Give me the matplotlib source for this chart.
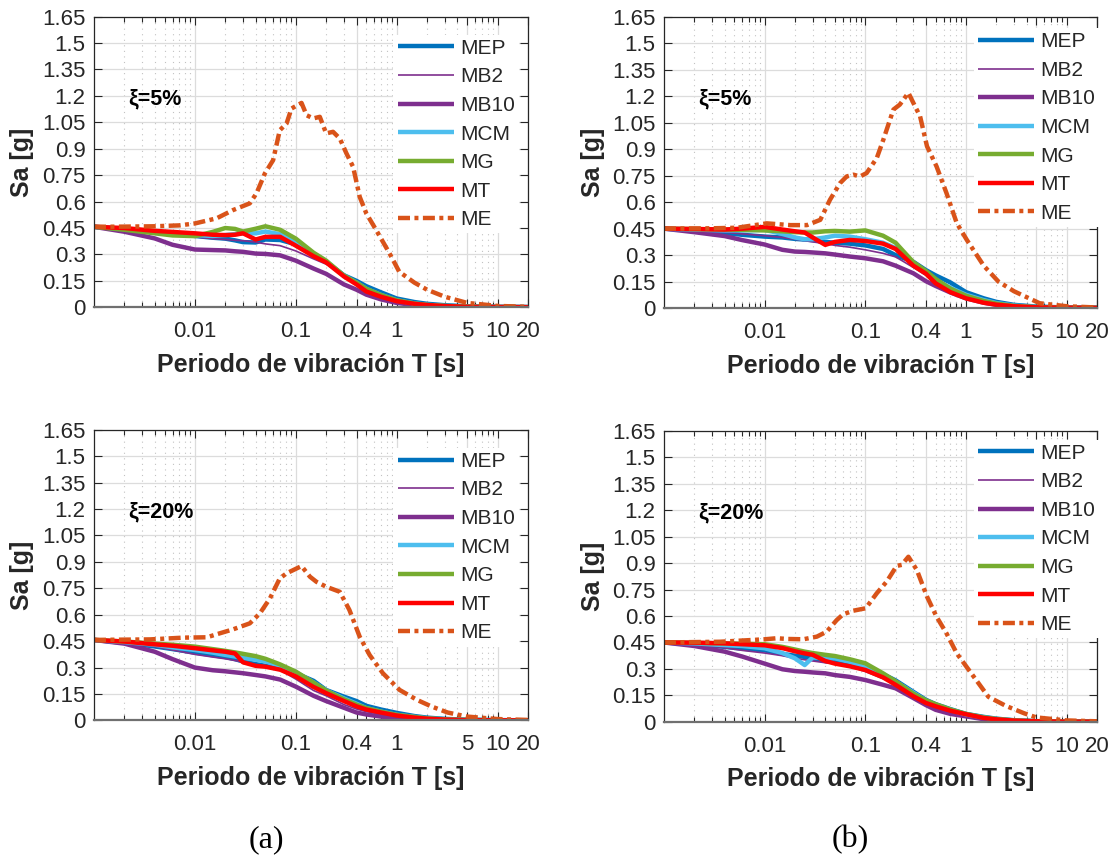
import matplotlib
matplotlib.use("Agg")
import matplotlib.pyplot as plt
from matplotlib.ticker import FixedLocator, FixedFormatter, LogLocator, NullFormatter

plt.rcParams["font.family"] = ["Liberation Sans", "DejaVu Sans"]

# periods shared by the six model curves [s]
PERIODS = [0.001, 0.002, 0.004, 0.006, 0.01, 0.015, 0.02, 0.025, 0.03, 0.04, 0.05, 0.07,
           0.1, 0.15, 0.2, 0.3, 0.4, 0.5, 0.7, 1.0, 1.5, 2.0, 3.0, 5.0, 10.0, 20.0]

# (a) xi = 5%
A5_MEP = [0.457, 0.445, 0.430, 0.420, 0.405, 0.395, 0.390, 0.380, 0.370, 0.368, 0.385, 0.382,
          0.358, 0.298, 0.258, 0.182, 0.150, 0.120, 0.085, 0.050, 0.030, 0.020, 0.012, 0.006, 0.003, 0.002]
A5_MB2 = [0.457, 0.440, 0.420, 0.410, 0.400, 0.390, 0.385, 0.380, 0.378, 0.370, 0.360, 0.350,
          0.320, 0.275, 0.245, 0.190, 0.140, 0.105, 0.070, 0.040, 0.020, 0.012, 0.007, 0.004, 0.002, 0.001]
A5_MB10 = [0.457, 0.429, 0.391, 0.355, 0.328, 0.325, 0.323, 0.318, 0.315, 0.305, 0.303, 0.295,
           0.265, 0.220, 0.190, 0.130, 0.100, 0.072, 0.045, 0.025, 0.013, 0.008, 0.004, 0.002, 0.001, 0.001]
A5_MCM = [0.457, 0.445, 0.430, 0.420, 0.410, 0.405, 0.410, 0.415, 0.420, 0.420, 0.430, 0.415,
          0.370, 0.305, 0.260, 0.180, 0.140, 0.105, 0.070, 0.040, 0.022, 0.014, 0.008, 0.004, 0.002, 0.001]
A5_MG = [0.457, 0.440, 0.420, 0.408, 0.404, 0.428, 0.450, 0.445, 0.430, 0.446, 0.460, 0.440,
         0.390, 0.310, 0.265, 0.180, 0.140, 0.105, 0.070, 0.040, 0.022, 0.014, 0.008, 0.004, 0.002, 0.001]
A5_MT = [0.457, 0.450, 0.434, 0.428, 0.420, 0.412, 0.410, 0.412, 0.420, 0.385, 0.400, 0.400,
         0.350, 0.290, 0.255, 0.175, 0.130, 0.090, 0.060, 0.035, 0.020, 0.013, 0.007, 0.003, 0.002, 0.001]
A5_ME_T = [0.001, 0.002, 0.004, 0.007, 0.01, 0.0164, 0.0239, 0.035, 0.0408, 0.0494, 0.0596, 0.0694,
           0.081, 0.0906, 0.114, 0.128, 0.149, 0.173, 0.2, 0.234, 0.273, 0.318, 0.37, 0.43, 0.5,
           0.627, 0.85, 1.06, 1.5, 2.0, 3.0, 5.0, 10.0, 20.0]
A5_ME = [0.457, 0.458, 0.460, 0.465, 0.476, 0.505, 0.552, 0.590, 0.647, 0.760, 0.835, 1.005,
         1.043, 1.128, 1.160, 1.090, 1.072, 1.081, 0.987, 0.996, 0.958, 0.873, 0.797, 0.627, 0.533,
         0.438, 0.306, 0.202, 0.140, 0.100, 0.060, 0.025, 0.008, 0.003]

# (b) xi = 5%
B5_MEP = [0.450, 0.440, 0.425, 0.415, 0.405, 0.400, 0.392, 0.388, 0.385, 0.375, 0.370, 0.365,
          0.355, 0.335, 0.300, 0.262, 0.215, 0.185, 0.145, 0.090, 0.055, 0.035, 0.018, 0.008, 0.003, 0.002]
B5_MB2 = [0.450, 0.440, 0.430, 0.420, 0.410, 0.400, 0.390, 0.382, 0.375, 0.365, 0.355, 0.345,
          0.330, 0.310, 0.290, 0.230, 0.185, 0.145, 0.100, 0.065, 0.035, 0.022, 0.011, 0.005, 0.002, 0.001]
B5_MB10 = [0.450, 0.430, 0.408, 0.385, 0.360, 0.330, 0.320, 0.318, 0.315, 0.310, 0.303, 0.292,
           0.282, 0.265, 0.240, 0.197, 0.152, 0.125, 0.088, 0.055, 0.030, 0.018, 0.009, 0.004, 0.002, 0.001]
B5_MCM = [0.450, 0.445, 0.440, 0.440, 0.443, 0.420, 0.400, 0.390, 0.390, 0.400, 0.410, 0.405,
          0.390, 0.370, 0.340, 0.260, 0.200, 0.160, 0.115, 0.075, 0.045, 0.028, 0.014, 0.006, 0.003, 0.002]
B5_MG = [0.450, 0.448, 0.445, 0.443, 0.440, 0.435, 0.430, 0.428, 0.428, 0.435, 0.437, 0.433,
         0.440, 0.410, 0.370, 0.260, 0.210, 0.165, 0.110, 0.070, 0.040, 0.025, 0.012, 0.005, 0.002, 0.001]
B5_MT = [0.450, 0.448, 0.445, 0.450, 0.460, 0.445, 0.435, 0.428, 0.400, 0.358, 0.375, 0.386,
         0.380, 0.365, 0.335, 0.240, 0.195, 0.140, 0.090, 0.055, 0.030, 0.019, 0.010, 0.004, 0.002, 0.001]
B5_ME_T = [0.001, 0.003, 0.0053, 0.0105, 0.018, 0.0263, 0.0357, 0.0446, 0.0561, 0.0653, 0.076,
           0.0888, 0.103, 0.13, 0.151, 0.19, 0.22, 0.268, 0.30, 0.35, 0.41, 0.51, 0.64, 0.81, 1.02,
           1.5, 2.1, 3.0, 5.4, 10.0, 20.0]
B5_ME = [0.450, 0.452, 0.455, 0.480, 0.470, 0.470, 0.500, 0.614, 0.708, 0.746, 0.756, 0.746,
         0.765, 0.850, 0.954, 1.125, 1.153, 1.220, 1.163, 1.087, 0.917, 0.803, 0.652, 0.481, 0.386,
         0.240, 0.150, 0.095, 0.027, 0.010, 0.003]

# (a) xi = 20%
C20_MEP = [0.457, 0.440, 0.420, 0.405, 0.385, 0.370, 0.360, 0.348, 0.335, 0.320, 0.310, 0.295,
           0.268, 0.225, 0.173, 0.135, 0.110, 0.083, 0.062, 0.043, 0.025, 0.016, 0.009, 0.004, 0.002, 0.001]
C20_MB2 = [0.457, 0.440, 0.420, 0.400, 0.375, 0.360, 0.350, 0.340, 0.330, 0.315, 0.305, 0.285,
           0.235, 0.170, 0.140, 0.090, 0.065, 0.050, 0.035, 0.022, 0.013, 0.008, 0.004, 0.002, 0.001, 0.001]
C20_MB10 = [0.457, 0.436, 0.390, 0.348, 0.300, 0.285, 0.279, 0.273, 0.268, 0.258, 0.250, 0.232,
            0.192, 0.140, 0.110, 0.072, 0.045, 0.034, 0.022, 0.013, 0.007, 0.004, 0.002, 0.001, 0.001, 0.001]
C20_MCM = [0.457, 0.445, 0.430, 0.415, 0.400, 0.385, 0.372, 0.363, 0.355, 0.345, 0.335, 0.310,
           0.275, 0.215, 0.170, 0.125, 0.095, 0.070, 0.050, 0.032, 0.020, 0.012, 0.006, 0.003, 0.001, 0.001]
C20_MG = [0.457, 0.448, 0.436, 0.430, 0.419, 0.405, 0.395, 0.386, 0.378, 0.365, 0.350, 0.318,
          0.277, 0.215, 0.170, 0.120, 0.090, 0.070, 0.050, 0.032, 0.020, 0.012, 0.006, 0.003, 0.001, 0.001]
C20_MT = [0.457, 0.448, 0.432, 0.424, 0.410, 0.398, 0.390, 0.380, 0.330, 0.310, 0.305, 0.288,
          0.250, 0.190, 0.155, 0.110, 0.080, 0.062, 0.045, 0.028, 0.016, 0.010, 0.005, 0.002, 0.001, 0.001]
C20_ME_T = [0.001, 0.0036, 0.0077, 0.0132, 0.0164, 0.0239, 0.035, 0.0441, 0.0555, 0.0694, 0.081,
            0.114, 0.138, 0.16, 0.2, 0.273, 0.34, 0.43, 0.54, 0.73, 1.07, 1.6, 2.2, 3.2, 5.0, 10.0, 20.0]
C20_ME = [0.457, 0.460, 0.470, 0.472, 0.489, 0.517, 0.551, 0.608, 0.693, 0.806, 0.835, 0.876,
          0.816, 0.787, 0.759, 0.730, 0.627, 0.475, 0.371, 0.268, 0.173, 0.116, 0.080, 0.045, 0.022,
          0.008, 0.003]

# (b) xi = 20%
D20_MEP = [0.450, 0.440, 0.425, 0.415, 0.405, 0.385, 0.375, 0.368, 0.360, 0.345, 0.338, 0.330,
           0.313, 0.270, 0.235, 0.170, 0.125, 0.100, 0.072, 0.045, 0.028, 0.018, 0.009, 0.004, 0.002, 0.001]
D20_MB2 = [0.450, 0.440, 0.420, 0.405, 0.390, 0.375, 0.360, 0.352, 0.345, 0.335, 0.330, 0.315,
           0.285, 0.245, 0.220, 0.155, 0.110, 0.085, 0.060, 0.035, 0.020, 0.012, 0.006, 0.003, 0.001, 0.001]
D20_MB10 = [0.450, 0.430, 0.398, 0.370, 0.330, 0.298, 0.288, 0.284, 0.280, 0.275, 0.265, 0.255,
            0.237, 0.210, 0.190, 0.135, 0.095, 0.068, 0.045, 0.031, 0.015, 0.009, 0.004, 0.002, 0.001, 0.001]
D20_MCM = [0.450, 0.445, 0.435, 0.430, 0.417, 0.390, 0.360, 0.322, 0.365, 0.360, 0.360, 0.340,
           0.310, 0.265, 0.228, 0.165, 0.120, 0.095, 0.068, 0.042, 0.025, 0.016, 0.008, 0.003, 0.001, 0.001]
D20_MG = [0.450, 0.448, 0.445, 0.443, 0.440, 0.425, 0.410, 0.398, 0.390, 0.380, 0.373, 0.355,
          0.332, 0.275, 0.230, 0.160, 0.122, 0.100, 0.070, 0.045, 0.025, 0.016, 0.008, 0.003, 0.001, 0.001]
D20_MT = [0.450, 0.449, 0.445, 0.440, 0.434, 0.418, 0.400, 0.388, 0.380, 0.345, 0.330, 0.315,
          0.294, 0.252, 0.210, 0.145, 0.107, 0.088, 0.063, 0.043, 0.022, 0.014, 0.007, 0.003, 0.001, 0.001]
D20_ME_T = [0.001, 0.0036, 0.01, 0.0132, 0.0165, 0.0242, 0.033, 0.0413, 0.052, 0.0603, 0.076, 0.101,
            0.13, 0.163, 0.205, 0.23, 0.268, 0.325, 0.41, 0.51, 0.64, 0.81, 1.1, 1.67, 2.5, 3.8,
            5.0, 10.0, 20.0]
D20_ME = [0.450, 0.454, 0.468, 0.474, 0.470, 0.468, 0.483, 0.511, 0.577, 0.610, 0.630, 0.644,
          0.729, 0.795, 0.884, 0.890, 0.936, 0.861, 0.710, 0.596, 0.502, 0.388, 0.284, 0.142, 0.090,
          0.048, 0.025, 0.008, 0.003]

LABELS = ["MEP", "MB2", "MB10", "MCM", "MG", "MT", "ME"]
X_TICKS = [0.01, 0.1, 0.4, 1, 5, 10, 20]
X_TICK_LABELS = ["0.01", "0.1", "0.4", "1", "5", "10", "20"]
Y_TICKS = [0, 0.15, 0.3, 0.45, 0.6, 0.75, 0.9, 1.05, 1.2, 1.35, 1.5, 1.65]
Y_TICK_LABELS = ["0", "0.15", "0.3", "0.45", "0.6", "0.75", "0.9", "1.05", "1.2", "1.35", "1.5", "1.65"]

STYLES = {
    "MEP": dict(color="#0072BD", lw=3.2),
    "MB2": dict(color="#7E2F8E", lw=1.2),
    "MB10": dict(color="#7E2F8E", lw=3.2),
    "MCM": dict(color="#4DBEEE", lw=3.2),
    "MG": dict(color="#77AC30", lw=3.2),
    "MT": dict(color="#FF0000", lw=3.2),
    "ME": dict(color="#D95319", lw=3.2, ls=(0, (2.7, 1.0, 0.9, 1.0))),
}

TEXT = "#262626"

panels = [
    ([0.0843, 0.6418, 0.3892, 0.3389], "ξ=5%",
     [A5_MEP, A5_MB2, A5_MB10, A5_MCM, A5_MG, A5_MT], A5_ME_T, A5_ME, (0.69, 0.938)),
    ([0.5955, 0.6410, 0.3883, 0.3392], "ξ=5%",
     [B5_MEP, B5_MB2, B5_MB10, B5_MCM, B5_MG, B5_MT], B5_ME_T, B5_ME, (0.715, 0.962)),
    ([0.0843, 0.1603, 0.3892, 0.3389], "ξ=20%",
     [C20_MEP, C20_MB2, C20_MB10, C20_MCM, C20_MG, C20_MT], C20_ME_T, C20_ME, (0.69, 0.938)),
    ([0.5955, 0.1587, 0.3883, 0.3392], "ξ=20%",
     [D20_MEP, D20_MB2, D20_MB10, D20_MCM, D20_MG, D20_MT], D20_ME_T, D20_ME, (0.715, 0.97)),
]

fig = plt.figure(figsize=(11.15, 8.58), dpi=100)

for rect, damping, models, me_t, me_sa, legend_anchor in panels:
    ax = fig.add_axes(rect)
    for name, sa in zip(LABELS[:-1], models):
        ax.plot(PERIODS, sa, label=name, solid_capstyle="butt", **STYLES[name])
    ax.plot(me_t, me_sa, label="ME", dash_capstyle="butt", **STYLES["ME"])

    ax.set_xscale("log")
    ax.set_xlim(0.001, 20)
    ax.set_ylim(0, 1.65)
    ax.xaxis.set_major_locator(FixedLocator(X_TICKS))
    ax.xaxis.set_major_formatter(FixedFormatter(X_TICK_LABELS))
    ax.xaxis.set_minor_locator(LogLocator(base=10, subs=range(2, 10), numticks=20))
    ax.xaxis.set_minor_formatter(NullFormatter())
    ax.yaxis.set_major_locator(FixedLocator(Y_TICKS))
    ax.yaxis.set_major_formatter(FixedFormatter(Y_TICK_LABELS))

    ax.grid(True, which="major", color="#dcdcdc", lw=0.9, ls="-")
    ax.grid(True, which="minor", axis="x", color="#c2c2c2", lw=0.8, ls=(0, (1, 4)))
    ax.set_axisbelow(True)

    ax.tick_params(which="both", direction="in", top=True, right=True, colors=TEXT,
                   labelsize=16, width=0.8)
    ax.tick_params(which="major", length=6)
    ax.tick_params(which="minor", length=3.5)
    ax.tick_params(axis="x", pad=10)
    ax.tick_params(axis="y", pad=6)
    for side in ("top", "left", "right"):
        ax.spines[side].set_color(TEXT)
        ax.spines[side].set_linewidth(0.9)
    ax.spines["bottom"].set_color("#707070")
    ax.spines["bottom"].set_linewidth(1.6)

    ax.set_xlabel("Periodo de vibración T [s]", fontsize=18, fontweight="bold",
                  color=TEXT, va="center")
    ax.xaxis.set_label_coords(0.5, -0.198)
    ax.set_ylabel("Sa [g]", fontsize=18, fontweight="bold", color=TEXT, va="center")
    ax.yaxis.set_label_coords(-0.165, 0.5)

    ax.text(0.078, 0.717, damping, transform=ax.transAxes, fontsize=15.5,
            fontweight="bold", color="black", va="center", ha="left")

    leg = ax.legend(loc="upper left", bbox_to_anchor=legend_anchor, fontsize=15,
                    frameon=True, fancybox=False, facecolor="white", edgecolor="none",
                    framealpha=1, handlelength=2.7, handletextpad=0.3,
                    labelspacing=0.46, borderpad=0.2, borderaxespad=0)
    for txt in leg.get_texts():
        txt.set_color(TEXT)

fig.text(266 / 1115, 1 - 840 / 858, "(a)", fontsize=23, family="Liberation Serif",
         ha="center", va="center", color="black")
fig.text(850 / 1115, 1 - 840 / 858, "(b)", fontsize=23, family="Liberation Serif",
         ha="center", va="center", color="black")

fig.savefig("out.png", dpi=100)
